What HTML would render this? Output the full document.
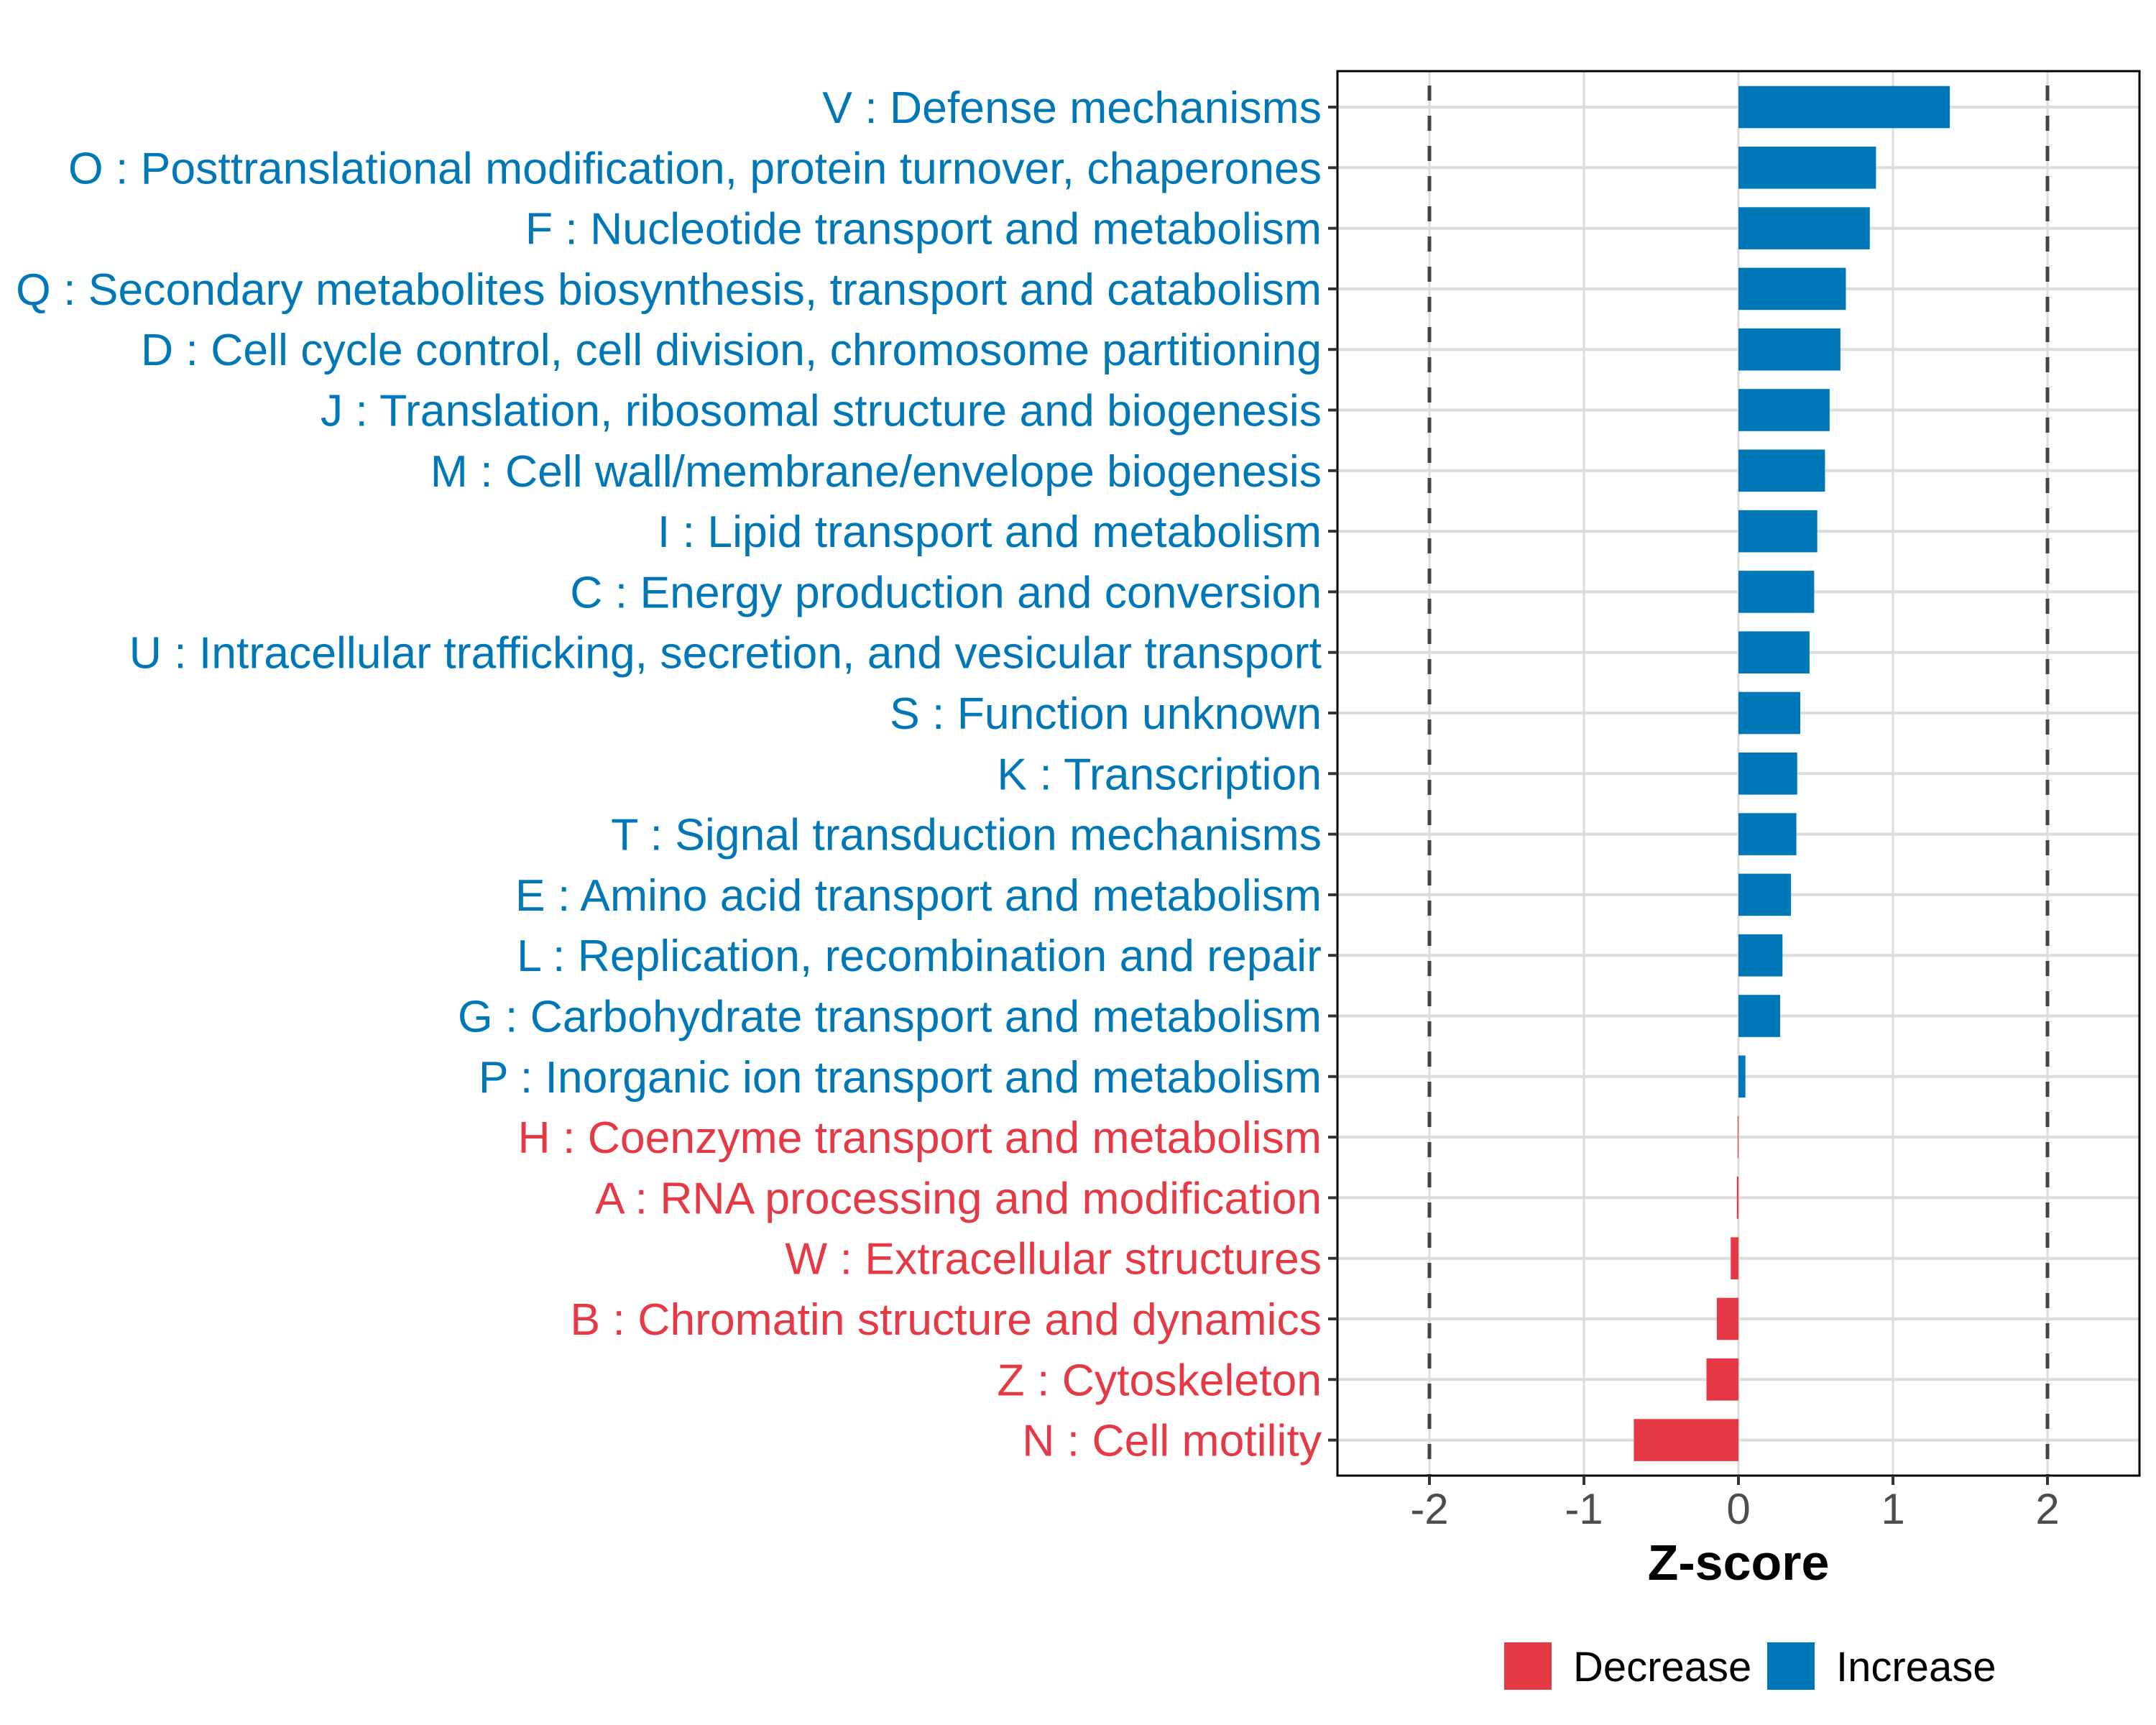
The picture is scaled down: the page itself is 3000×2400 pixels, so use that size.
<!DOCTYPE html>
<html><head><meta charset="utf-8"><style>
html,body{margin:0;padding:0;background:#fff}
svg{display:block}
text{font-family:"Liberation Sans",Arial,sans-serif}
</style></head><body>
<svg id="chart" width="3000" height="2400" viewBox="0 0 3000 2400" xmlns="http://www.w3.org/2000/svg">
<g id="grid"></g>
<g id="bars"></g>
<g id="refs"></g>
<rect x="1861" y="99" width="1116" height="1954" fill="none" stroke="#000" stroke-width="3"/>
<g id="ylabels"></g>
<g id="xaxis"></g>
<text x="2419" y="2198" font-size="70" font-weight="bold" text-anchor="middle" fill="#000">Z-score</text>
<g>
<rect x="2093" y="2285" width="66" height="66" fill="#E63946"/>
<text x="2189" y="2339" font-size="58" fill="#000">Decrease</text>
<rect x="2459" y="2285" width="66" height="66" fill="#0077B6"/>
<text x="2555" y="2339" font-size="58" fill="#000">Increase</text>
</g>
</svg>
<script>
const categories = ["V : Defense mechanisms","O : Posttranslational modification, protein turnover, chaperones","F : Nucleotide transport and metabolism","Q : Secondary metabolites biosynthesis, transport and catabolism","D : Cell cycle control, cell division, chromosome partitioning","J : Translation, ribosomal structure and biogenesis","M : Cell wall/membrane/envelope biogenesis","I : Lipid transport and metabolism","C : Energy production and conversion","U : Intracellular trafficking, secretion, and vesicular transport","S : Function unknown","K : Transcription","T : Signal transduction mechanisms","E : Amino acid transport and metabolism","L : Replication, recombination and repair","G : Carbohydrate transport and metabolism","P : Inorganic ion transport and metabolism","H : Coenzyme transport and metabolism","A : RNA processing and modification","W : Extracellular structures","B : Chromatin structure and dynamics","Z : Cytoskeleton","N : Cell motility"];
const zscores = [1.368,0.89,0.85,0.695,0.66,0.59,0.56,0.51,0.49,0.46,0.40,0.38,0.375,0.34,0.285,0.27,0.045,-0.005,-0.01,-0.05,-0.14,-0.207,-0.677];
const xTicks = [-2,-1,0,1,2];
const xTickLabels = ["-2","-1","0","1","2"];
const refLines = [-2,2];

const NS="http://www.w3.org/2000/svg";
const X0=1861,X1=2977,Y0=99,Y1=2053;
const xs = v => 2419 + v*215;
const ys = i => 149 + i*84.3;
function mk(tag,attrs,parent){const e=document.createElementNS(NS,tag);for(const k in attrs)e.setAttribute(k,attrs[k]);parent.appendChild(e);return e;}
const grid=document.getElementById('grid'),bars=document.getElementById('bars'),refs=document.getElementById('refs'),yl=document.getElementById('ylabels'),xa=document.getElementById('xaxis');
mk('rect',{x:X0,y:Y0,width:X1-X0,height:Y1-Y0,fill:'#fff'},grid);
xTicks.forEach((t,i)=>{
  const g=mk('line',{x1:xs(t),x2:xs(t),y1:Y0,y2:Y1,stroke:'#dcdcdc','stroke-width':3},grid);
  
  
  const tk=mk('line',{x1:xs(t),x2:xs(t),y1:Y1,y2:Y1+13,stroke:'#333','stroke-width':4},xa);
  
  
  const tl=mk('text',{x:xs(t),y:2120,'font-size':60,'text-anchor':'middle',fill:'#4d4d4d'},xa);
  tl.textContent=xTickLabels[i];
  
  
});
categories.forEach((c,i)=>{
  const y=ys(i);
  const gl=mk('line',{x1:X0,x2:X1,y1:y,y2:y,stroke:'#dcdcdc','stroke-width':4},grid);
  
  
  const v=zscores[i];
  const col=v>=0?'#0077B6':'#E63946';
  const r=mk('rect',{x:Math.min(xs(0),xs(v)),y:y-29.3,width:Math.abs(xs(v)-xs(0)),height:58.6,fill:col},bars);
  
  
  const tk=mk('line',{x1:X0-13,x2:X0,y1:y,y2:y,stroke:'#333','stroke-width':4},yl);
  
  
  const t=mk('text',{x:1839,y:y+22,'font-size':62.5,'text-anchor':'end',fill:col},yl);
  t.textContent=c;
  
  
});
refLines.forEach(v=>{
  const l=mk('line',{x1:xs(v),x2:xs(v),y1:Y0,y2:Y1,stroke:'#444','stroke-width':5,'stroke-dasharray':'21 21','stroke-dashoffset':'-20'},refs);
  
  
});
</script>
</body></html>
